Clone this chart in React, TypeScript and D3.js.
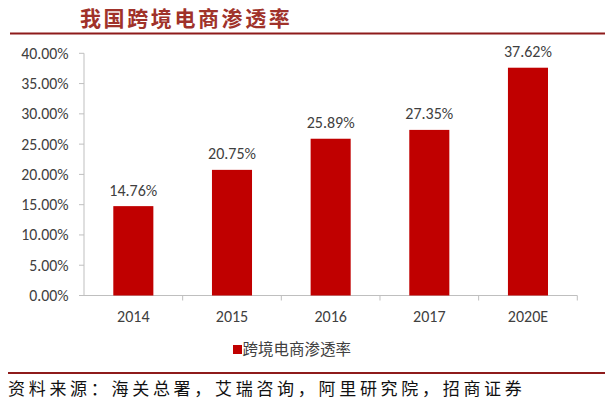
import React from "react";
import * as d3 from "d3";

const categories = ["2014", "2015", "2016", "2017", "2020E"];
const values = [14.76, 20.75, 25.89, 27.35, 37.62];
const yTicks = [0, 5, 10, 15, 20, 25, 30, 35, 40];
const title = "我国跨境电商渗透率";
const seriesName = "跨境电商渗透率";
const source = "资料来源：海关总署，艾瑞咨询，阿里研究院，招商证券";

const W = 612;
const H = 405;
const plot = { left: 84, right: 577.3, top: 53.3, bottom: 295.5 };
const barColor = "#C00000";
const axisColor = "#BFBFBF";
const textColor = "#404040";
const latin = "Calibri, Carlito, 'Liberation Sans', 'DejaVu Sans', sans-serif";
const cjk = "'Noto Sans CJK SC', sans-serif";

export default function App() {
  const x = d3
    .scaleBand<string>()
    .domain(categories)
    .range([plot.left, plot.right])
    .paddingInner(0.594)
    .paddingOuter(0.297);
  const xCat = d3.scaleBand<string>().domain(categories).range([plot.left, plot.right]);
  const y = d3.scaleLinear().domain([0, 40]).range([plot.bottom, plot.top]);

  return (
    <svg
      width={W}
      height={H}
      style={{ position: "absolute", left: 0, top: 0, background: "#fff" }}
    >
      <rect x={0} y={0} width={W} height={H} fill="#fff" />
      {/* title */}
      <text
        x={80}
        y={26}
        fontFamily={cjk}
        fontWeight={700}
        fontSize={21}
        letterSpacing={2.6}
        fill="#A0322A"
      >
        {title}
      </text>
      <line x1={10} x2={605} y1={33.5} y2={33.5} stroke="#8E1B1B" strokeWidth={2} />

      {/* y axis */}
      <line x1={plot.left} x2={plot.left} y1={plot.top} y2={plot.bottom} stroke={axisColor} strokeWidth={1} />
      {yTicks.map((t) => (
        <g key={t}>
          <line x1={plot.left - 5} x2={plot.left} y1={y(t)} y2={y(t)} stroke={axisColor} />
          <text
            x={68.5}
            y={y(t)}
            dy="0.35em"
            textAnchor="end"
            fontFamily={latin}
            fontSize={15.8}
            fill={textColor}
          >
            {t.toFixed(2) + "%"}
          </text>
        </g>
      ))}

      {/* x axis */}
      <line x1={plot.left} x2={plot.right} y1={plot.bottom} y2={plot.bottom} stroke={axisColor} />
      {categories.map((c) => (
        <line
          key={"t" + c}
          x1={(xCat(c) as number) + xCat.bandwidth()}
          x2={(xCat(c) as number) + xCat.bandwidth()}
          y1={plot.bottom}
          y2={plot.bottom + 5}
          stroke={axisColor}
        />
      ))}
      {categories.map((c) => (
        <text
          key={"l" + c}
          x={(xCat(c) as number) + xCat.bandwidth() / 2}
          y={322}
          textAnchor="middle"
          fontFamily={latin}
          fontSize={16}
          fill={textColor}
        >
          {c}
        </text>
      ))}

      {/* bars */}
      {categories.map((c, i) => (
        <g key={"b" + c}>
          <rect
            x={x(c) as number}
            y={y(values[i])}
            width={x.bandwidth()}
            height={plot.bottom - y(values[i])}
            fill={barColor}
          />
          <text
            x={(x(c) as number) + x.bandwidth() / 2}
            y={y(values[i]) - 10.5}
            textAnchor="middle"
            fontFamily={latin}
            fontSize={16}
            fill={textColor}
          >
            {values[i].toFixed(2) + "%"}
          </text>
        </g>
      ))}

      {/* legend */}
      <rect x={233} y={345} width={9} height={9} fill={barColor} />
      <text x={242.5} y={349.5} dy="0.35em" fontFamily={cjk} fontSize={15.5} fill={textColor}>
        {seriesName}
      </text>

      {/* footer */}
      <line x1={8} x2={605} y1={373} y2={373} stroke="#8E1B1B" strokeWidth={2} />
      <text x={8} y={395} fontFamily={cjk} fontSize={17} letterSpacing={3.7} fill="#111">
        {source}
      </text>
    </svg>
  );
}
